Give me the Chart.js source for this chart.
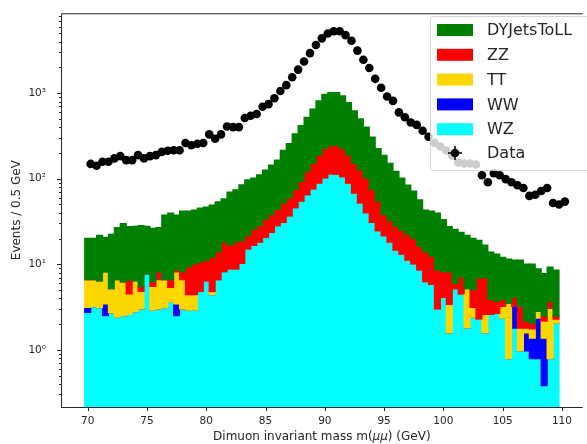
<!DOCTYPE html>
<html>
<head>
<meta charset="utf-8">
<script src="https://cdn.jsdelivr.net/npm/chart.js@4"></script>
<style>
  html, body { margin: 0; padding: 0; background: #fff; overflow: hidden; }
  #wrap { width: 587px; height: 444px; }
</style>
</head>
<body>
<div id="wrap"><canvas id="chart" width="587" height="444"></canvas></div>
<script>
// bin centres of the MC histograms (GeV)
const massBins = [
  70, 70.5, 71, 71.5, 72, 72.5, 73, 73.5, 74, 74.5,
  75, 75.5, 76, 76.5, 77, 77.5, 78, 78.5, 79, 79.5,
  80, 80.5, 81, 81.5, 82, 82.5, 83, 83.5, 84, 84.5,
  85, 85.5, 86, 86.5, 87, 87.5, 88, 88.5, 89, 89.5,
  90, 90.5, 91, 91.5, 92, 92.5, 93, 93.5, 94, 94.5,
  95, 95.5, 96, 96.5, 97, 97.5, 98, 98.5, 99, 99.5,
  100, 100.5, 101, 101.5, 102, 102.5, 103, 103.5, 104, 104.5,
  105, 105.5, 106, 106.5, 107, 107.5, 108, 108.5, 109, 109.5
];

// positions of the data points (GeV)
const dataMass = [
  70.25, 70.75, 71.25, 71.75, 72.25, 72.75, 73.25, 73.75, 74.25, 74.75,
  75.25, 75.75, 76.25, 76.75, 77.25, 77.75, 78.25, 78.75, 79.25, 79.75,
  80.25, 80.75, 81.25, 81.75, 82.25, 82.75, 83.25, 83.75, 84.25, 84.75,
  85.25, 85.75, 86.25, 86.75, 87.25, 87.75, 88.25, 88.75, 89.25, 89.75,
  90.25, 90.75, 91.25, 91.75, 92.25, 92.75, 93.25, 93.75, 94.25, 94.75,
  95.25, 95.75, 96.25, 96.75, 97.25, 97.75, 98.25, 98.75, 99.25, 99.75,
  100.25, 100.75, 101.25, 101.75, 102.25, 102.75, 103.25, 103.75, 104.25, 104.75,
  105.25, 105.75, 106.25, 106.75, 107.25, 107.75, 108.25, 108.75, 109.25, 109.75,
  110.25
];

const wzEvents = [
  2.74, 3.2, 3.1, 2.5, 2.7, 2.4, 2.5, 2.6, 2.8, 3.0,
  7.7, 2.9, 3.0, 3.1, 3.6, 2.5, 3.0, 2.9, 2.9, 4.8,
  6.4, 4.4, 6.6, 8.2, 8.8, 8.8, 10.2, 15.1, 16.6, 18.1,
  20.6, 23.6, 28.2, 30.8, 36.7, 45.8, 54.7, 65, 76, 89,
  102, 114, 113, 106, 89, 68, 52, 40, 30.8, 24.7,
  21.6, 18.1, 14.6, 13.1, 11.2, 10.1, 8.6, 6.25, 5.8, 3.0,
  4.1, 1.57, 5.2, 4.5, 1.8, 2.4, 2.3, 1.57, 2.6, 2.67,
  2.34, 0.79, 1.79, 0.97, 0.97, 0.79, 0.79, 0.38, 0.79, 2.05
];

const wwEvents = [
  0.39, 0, 0, 0.95, 0, 0, 0, 0, 0, 0,
  0, 0, 0, 0, 0, 0.95, 0, 0, 0, 0,
  0, 0, 0, 0, 0, 0, 0, 0, 0, 0,
  0, 0, 0, 0, 0, 0, 0, 0, 0, 0,
  0, 0, 0, 0, 0, 0, 0, 0, 0, 0,
  0, 0, 0, 0, 0, 0, 0, 0, 0, 0,
  0, 0, 0, 0, 0, 0, 0, 0, 0, 0,
  0, 0, 1.43, 0, 0.6, 0.58, 1.55, 0.99, 0, 0
];

const ttEvents = [
  3.46, 3.4, 3.3, 4.7, 2.5, 4.2, 3.7, 1.9, 3.6, 1.8,
  0, 2.6, 3.6, 3.5, 1.75, 4.7, 3.6, 1.5, 1.5, 0,
  0, 0.37, 0, 0, 0, 0, 0, 0, 0, 0,
  0, 0, 0, 0, 0, 0, 0, 0, 0, 0,
  0, 0, 0, 0, 0, 0, 0, 0, 0, 0,
  0, 0, 0, 0, 0, 0, 0, 0, 0, 0,
  0, 1.82, 0, 0, 3.4, 0.73, 0, 1.03, 0, 0,
  0.88, 2.7, 0, 0.82, 0.22, 0.38, 0.48, 0.79, 2.26, 0.23
];

const zzEvents = [
  0, 0, 0, 0, 0, 0, 0, 2.05, 0, 0.7,
  0, 0.8, 1.6, 0, 1.26, 0.45, 1.56, 4.9, 5.7, 5.8,
  4.8, 7.3, 7.3, 9.9, 7.9, 9.3, 8.7, 6.5, 9.1, 10.1,
  13, 14.7, 15.6, 21.5, 23, 28.7, 38.4, 56, 75, 100,
  123, 132, 131, 119, 100, 83, 75, 62, 43.7, 30,
  16.7, 14.3, 13.1, 11.8, 11.2, 10, 7.7, 7.65, 6.7, 5.6,
  4.1, 4.76, 0.74, 2.6, 0, 1.92, 4.6, 4.35, 1.28, 1.0,
  0.66, 0, 0.86, 1.43, 0.37, 0.3, 0, 0.31, 0.62, 0.19
];

const dyEvents = [
  13.5, 13.5, 15.4, 12.5, 17.2, 20.3, 23.7, 21.1, 21.3, 22.9,
  20, 20, 18.7, 31, 33, 29, 33.6, 32.5, 33, 34.7,
  35.3, 37, 39.8, 40.1, 53.3, 55.8, 66, 75.5, 76, 83,
  93, 106, 121, 163, 197, 261, 326, 402, 501, 624,
  746, 770, 772, 704, 590, 472, 373, 299, 233, 170,
  149, 119, 94, 77, 62, 51.8, 40.3, 29.1, 29.3, 31,
  25.1, 19.5, 19.6, 16.5, 16.6, 15, 12.1, 9.8, 10, 9.5,
  8.2, 8.0, 7.1, 8.0, 7.9, 8.0, 6.0, 5.3, 5.6, 6.1
];

const dataEvents = [
  149, 142, 158, 158, 173, 184, 165, 165, 189, 173,
  184, 189, 206, 212, 215, 215, 262, 246, 257, 262,
  330, 294, 330, 408, 401, 401, 513, 546, 571, 694,
  745, 873, 1060, 1243, 1537, 1888, 2350, 2940, 3660, 4380,
  5000, 5310, 5310, 4780, 4110, 3150, 2460, 1970, 1473, 1160,
  914, 813, 597, 523, 455, 426, 364, 310, 264, 238,
  214, 187, 155, 151, 151, 147, 110, 91, 116, 110,
  99, 91, 84, 78, 63, 65, 72, 78, 52, 50,
  54
];

const xTicks = [70, 75, 80, 85, 90, 95, 100, 105, 110];
const yTicks = [1, 10, 100, 1000];

const FONT = "'DejaVu Sans', sans-serif";
const INK = '#262626';

// stack order, bottom first (as matplotlib hist(stacked=True) draws it)
const samples = [
  { label: 'WZ', values: wzEvents, color: '#00ffff' },
  { label: 'WW', values: wwEvents, color: '#0000ff' },
  { label: 'TT', values: ttEvents, color: '#ffd700' },
  { label: 'ZZ', values: zzEvents, color: '#ff0000' },
  { label: 'DYJetsToLL', values: dyEvents, color: '#008000' }
];

const running = massBins.map(() => 0);
const datasets = samples.map((s, n) => {
  const rows = massBins.map((m, i) => {
    const lo = running[i];
    const hi = lo + s.values[i];
    running[i] = hi;
    return { x: m, y: [Math.max(lo, 1e-3), hi] };
  });
  return {
    label: s.label,
    data: rows,
    backgroundColor: s.color,
    borderWidth: 0,
    inflateAmount: 0.6,
    grouped: false,
    barPercentage: 1,
    categoryPercentage: 1,
    order: samples.length - n
  };
});

datasets.push({
  type: 'scatter',
  label: 'Data',
  data: dataMass.map((m, i) => ({ x: m, y: dataEvents[i] })),
  backgroundColor: '#000',
  borderWidth: 0,
  pointRadius: 4.3,
  order: 0
});

const sup = { 0: '\u2070', 1: '\u00b9', 2: '\u00b2', 3: '\u00b3' };

// spines, tick marks, x tick labels and axis titles
const frame = {
  id: 'frame',
  afterDatasetsDraw(chart) {
    const { ctx, chartArea: a, scales: { x, y } } = chart;
    ctx.save();
    ctx.strokeStyle = INK;
    ctx.lineWidth = 1;
    ctx.beginPath();
    ctx.moveTo(a.left + 0.5, a.bottom + 0.5);
    ctx.lineTo(a.left + 0.5, a.top + 0.5);
    ctx.lineTo(a.right, a.top + 0.5);
    ctx.moveTo(a.left, a.bottom + 0.5);
    ctx.lineTo(a.right, a.bottom + 0.5);
    xTicks.forEach(v => {
      const px = Math.round(x.getPixelForValue(v)) + 0.5;
      ctx.moveTo(px, a.bottom);
      ctx.lineTo(px, a.bottom + 4);
    });
    for (let e = -1; e <= 3; e++) {
      for (let m = 1; m <= 9; m++) {
        const v = m * Math.pow(10, e);
        if (v < y.min || v > y.max) continue;
        const py = Math.round(y.getPixelForValue(v)) + 0.5;
        ctx.moveTo(a.left, py);
        ctx.lineTo(a.left - (m === 1 ? 4 : 2), py);
      }
    }
    ctx.stroke();

    ctx.fillStyle = INK;
    ctx.font = '10.5px ' + FONT;
    ctx.textAlign = 'center';
    ctx.textBaseline = 'middle';
    xTicks.forEach(v => {
      ctx.fillText(String(v), x.getPixelForValue(v), a.bottom + 14);
    });

    ctx.font = '12px ' + FONT;
    ctx.save();
    ctx.translate(17, (a.top + a.bottom) / 2);
    ctx.rotate(-Math.PI / 2);
    ctx.fillText('Events / 0.5 GeV', 0, 0);
    ctx.restore();

    const parts = [
      ['Dimuon invariant mass m(', '12px ' + FONT],
      ['\u03bc\u03bc', 'oblique 12px ' + FONT],
      [') (GeV)', '12px ' + FONT]
    ];
    let total = 0;
    parts.forEach(p => { ctx.font = p[1]; total += ctx.measureText(p[0]).width; });
    let cx = (a.left + a.right) / 2 - total / 2;
    ctx.textAlign = 'left';
    parts.forEach(p => {
      ctx.font = p[1];
      ctx.fillText(p[0], cx, 437);
      cx += ctx.measureText(p[0]).width;
    });
    ctx.restore();
  }
};

// matplotlib style legend in the upper right corner
const legendBox = {
  id: 'legendBox',
  afterDraw(chart) {
    const { ctx } = chart;
    const entries = samples.slice().reverse();
    ctx.save();
    ctx.fillStyle = 'rgba(255,255,255,0.8)';
    ctx.strokeStyle = 'rgba(204,204,204,0.8)';
    ctx.lineWidth = 1;
    ctx.beginPath();
    ctx.roundRect(430.5, 16.5, 200, 154, 3);
    ctx.fill();
    ctx.stroke();
    ctx.font = '16px ' + FONT;
    ctx.textBaseline = 'middle';
    ctx.textAlign = 'left';
    entries.forEach((s, i) => {
      const cy = 30 + i * 24.8;
      ctx.fillStyle = s.color;
      ctx.fillRect(437, cy - 6, 36, 12);
      ctx.fillStyle = INK;
      ctx.fillText(s.label, 487, cy + 1);
    });
    const cy = 30 + entries.length * 24.6;
    ctx.strokeStyle = '#000';
    ctx.lineWidth = 1.5;
    ctx.beginPath();
    ctx.moveTo(448, cy);
    ctx.lineTo(462, cy);
    ctx.moveTo(455, cy - 7);
    ctx.lineTo(455, cy + 7);
    ctx.stroke();
    ctx.fillStyle = '#000';
    ctx.beginPath();
    ctx.arc(455, cy, 4.3, 0, Math.PI * 2);
    ctx.fill();
    ctx.fillStyle = INK;
    ctx.fillText('Data', 487, cy + 1);
    ctx.restore();
  }
};

new Chart(document.getElementById('chart'), {
  type: 'bar',
  data: { datasets },
  options: {
    responsive: false,
    animation: false,
    layout: { padding: { top: 8, right: 0, left: 0, bottom: 0 } },
    plugins: { legend: { display: false }, tooltip: { enabled: false } },
    scales: {
      x: {
        type: 'linear',
        min: 67.75,
        max: 111.75,
        offset: false,
        bounds: 'data',
        grid: { display: false },
        border: { display: false },
        afterBuildTicks: s => { s.ticks = xTicks.map(v => ({ value: v })); },
        afterFit: s => { s.height = 37; },
        ticks: { display: false }
      },
      y: {
        type: 'logarithmic',
        min: 0.2142,
        max: 8600,
        bounds: 'data',
        grid: { display: false },
        border: { display: false },
        afterBuildTicks: s => { s.ticks = yTicks.map(v => ({ value: v })); },
        afterFit: s => { s.width = 61; },
        ticks: {
          color: INK,
          font: { family: FONT, size: 10.5 },
          padding: 7,
          autoSkip: false,
          callback: v => '10' + sup[Math.round(Math.log10(v))]
        }
      }
    }
  },
  plugins: [frame, legendBox]
});
</script>
</body>
</html>
